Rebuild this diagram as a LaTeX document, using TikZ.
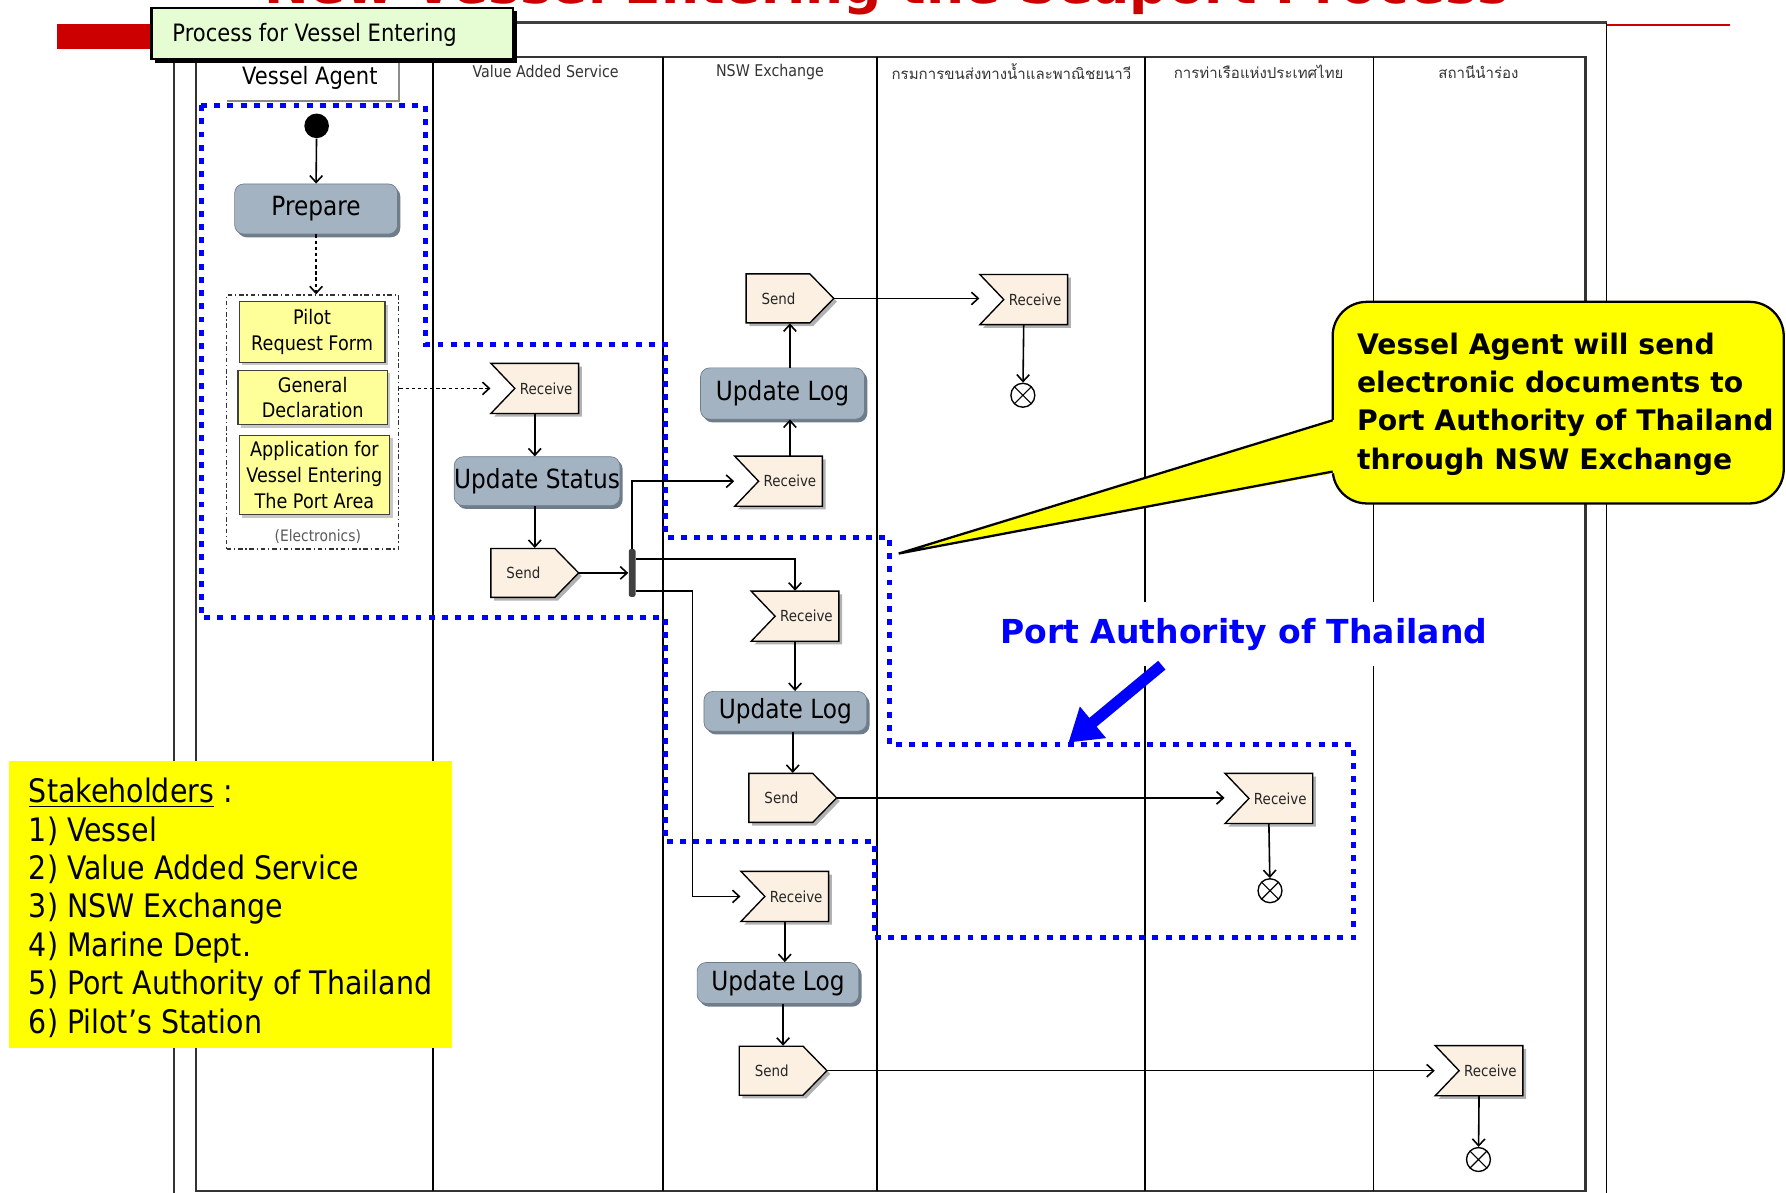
\documentclass[tikz,border=0pt]{standalone}
\usepackage{fontspec}
\setmainfont{DejaVu Sans}[FakeStretch=0.88]
\newfontfamily\bsans{DejaVu Sans}
\newfontfamily\thaifont[Script=Thai]{Loma}
\usetikzlibrary{arrows.meta,shadows}

\definecolor{actfill}{HTML}{A4B3C2}
\definecolor{actshadow}{HTML}{6F7D8B}
\definecolor{sigfill}{HTML}{FBF0E2}
\definecolor{docfill}{HTML}{FFFF99}
\definecolor{titlegreen}{HTML}{E6FCD2}
\definecolor{pptred}{HTML}{CC0000}
\definecolor{hiyellow}{HTML}{FFFF00}
\definecolor{pureblue}{HTML}{0000FF}

\tikzset{
  laneline/.style={line width=0.7pt},
  act/.style={rectangle, rounded corners=4pt, fill=actfill, draw=actshadow, line width=0.3pt,
    inner sep=0pt, font=\fontsize{11.6}{13.9}\selectfont,
    drop shadow={shadow xshift=1.2pt, shadow yshift=-1.4pt, fill=actshadow, opacity=1}},
  sigshape/.style={fill=sigfill, draw=black, line width=0.6pt,
    drop shadow={shadow xshift=1.4pt, shadow yshift=-1.4pt, fill=black!30, opacity=1}},
  sigbox/.style={rectangle, inner sep=0pt, minimum width=38.5pt, minimum height=22pt,
    font=\fontsize{6.7}{8}\selectfont, text=black!85},
  doc/.style={rectangle, fill=docfill, draw=black!75, line width=0.5pt, inner sep=0pt,
    align=center, font=\fontsize{8.8}{11.3}\selectfont,
    drop shadow={shadow xshift=1.4pt, shadow yshift=-1.4pt, fill=black!22, opacity=1}},
  flow/.style={line width=0.7pt, -{Straight Barb[length=3pt,width=5.5pt]}},
  objflow/.style={flow, dash pattern=on 1.5pt off 1.2pt},
  finalnode/.style={circle, draw=black, line width=0.6pt, fill=white, minimum size=10.5pt, inner sep=0pt,
    path picture={\draw[line width=0.5pt] (path picture bounding box.north west) -- (path picture bounding box.south east)
      (path picture bounding box.south west) -- (path picture bounding box.north east);}},
  hdr/.style={font=\fontsize{7.1}{8}\selectfont, text=black!80, inner sep=0pt},
  thaihdr/.style={font=\thaifont\fontsize{6.6}{8}\selectfont, text=black!80, inner sep=0pt},
  bluebound/.style={draw=pureblue, line width=2.2pt, dash pattern=on 2.6pt off 3.2pt},
}

\newcommand\recvnode[3]{%
  \path[sigshape] (#2-38.5,#3-22) -- (#2+38.5,#3-22) -- (#2+38.5,#3+22) -- (#2-38.5,#3+22) -- (#2-17.5,#3) -- cycle;
  \node[sigbox] (#1) at (#2,#3) {\hspace*{10pt}Receive};}
\newcommand\sendnode[3]{%
  \path[sigshape] (#2-38.5,#3-21.5) -- (#2+17.5,#3-21.5) -- (#2+38.5,#3) -- (#2+17.5,#3+21.5) -- (#2-38.5,#3+21.5) -- cycle;
  \node[sigbox, minimum height=21.5pt] (#1) at (#2,#3) {Send\hspace*{10pt}};}

\begin{document}
\begin{tikzpicture}[x=0.5pt, y=-0.5pt]
\useasboundingbox (0,0) rectangle (1568,1047);
\clip (0,0) rectangle (1568,1047);

% ---------- title (cut off at the top) ----------
\node[anchor=base west, inner sep=0, text=pptred, font=\bsans\bfseries\fontsize{23.45}{28}\selectfont]
  (title) at (232,3.5) {New Vessel Entering the Seaport Process};
\fill[pptred] (50,21) rectangle (134,43);
\draw[pptred, line width=0.6pt] (1411,22) -- (1519,22);

% ---------- frames and lanes ----------
\draw[black!75, line width=1.3pt] (153,20) -- (1410.5,20);
\draw[black!80, line width=0.9pt] (153,20) -- (153,1047);
\draw[black, line width=0.7pt] (1410.5,20) -- (1410.5,1047);
\draw[black!80, line width=1.1pt] (172,50) -- (1392,50) -- (1392,1045.5) -- (172,1045.5) -- cycle;
\foreach \lx in {380,582,770,1005,1206} \draw[laneline] (\lx,50) -- (\lx,1046);

% lane headers
\draw[black!45, line width=0.9pt] (350,50) -- (350,89) -- (199,89);
\node[font=\fontsize{10.5}{12}\selectfont, inner sep=0] (va) at (272,68) {Vessel Agent};
\node[hdr] (h2) at (479,63) {Value Added Service};
\node[hdr] (h3) at (676,63) {NSW Exchange};
\node[thaihdr] (h4) at (888,63) {กรมการขนส่งทางน้ำและพาณิชยนาวี};
\node[thaihdr] (h5) at (1105,63) {การท่าเรือแห่งประเทศไทย};
\node[thaihdr] (h6) at (1298,63) {สถานีนำร่อง};

% process title box
\fill[black] (136,10) rectangle (453.5,55.5);
\filldraw[fill=titlegreen, draw=black, line width=0.9pt] (133,7) rectangle (450,52);
\node[anchor=west, inner sep=0, font=\fontsize{10.5}{12}\selectfont] (ttl) at (151,31) {Process for Vessel Entering};

% ---------- Vessel Agent lane ----------
\node[circle, fill=black, minimum size=10.8pt, inner sep=0] (init) at (278,110.5) {};
\node[act, minimum width=71.5pt, minimum height=22pt] (prep) at (277.5,183.5) {Prepare};
\node[rectangle, draw=black!80, line width=0.6pt, dash pattern=on 2pt off 1.2pt on 0.6pt off 1.2pt,
  minimum width=75.5pt, minimum height=111.5pt, inner sep=0] (grp) at (274.5,370.5) {};
\node[doc, minimum width=64pt, minimum height=26.5pt] (d1) at (274,291.5) {Pilot\\Request Form};
\node[doc, minimum width=65.5pt, minimum height=24pt] (d2) at (274.5,349) {General\\Declaration};
\node[doc, minimum width=66pt, minimum height=35pt] (d3) at (276,417) {Application for\\Vessel Entering\\The Port Area};
\node[font=\fontsize{6.9}{8}\selectfont, text=black!65, inner sep=0] (elec) at (279,471) {(Electronics)};

% ---------- Value Added Service lane ----------
\recvnode{rcv1}{469.5}{341}
\node[act, minimum width=71.5pt, minimum height=21.5pt] (updS) at (471.5,422.5) {Update Status};
\sendnode{snd1}{469.5}{503}
\node[rectangle, fill=black!75, rounded corners=1pt, minimum width=3pt, minimum height=21pt, inner sep=0] (fork) at (555,503) {};

% ---------- NSW Exchange lane ----------
\sendnode{snd2}{693.5}{262}
\node[act, minimum width=72pt, minimum height=22.5pt] (upd1) at (687,345.5) {Update Log};
\recvnode{rcv2}{683.5}{422.5}
\recvnode{rcv3}{698}{541}
\node[act, minimum width=71.5pt, minimum height=17.5pt] (upd2) at (689.5,624.5) {Update Log};
\sendnode{snd3}{696}{700.5}
\recvnode{rcv4}{689}{787}
\node[act, minimum width=71pt, minimum height=18pt] (upd3) at (683,863) {Update Log};
\sendnode{snd4}{687.5}{940}

% ---------- receiving lanes ----------
\recvnode{rcv5}{898.75}{263}
\node[finalnode] (fin5) at (898,347) {};
\recvnode{rcv6}{1114}{701}
\node[finalnode] (fin6) at (1115,782) {};
\recvnode{rcv7}{1298.5}{940}
\node[finalnode] (fin7) at (1298,1018) {};

% ---------- connectors ----------
\draw[flow] (init) -- (prep.north);
\draw[objflow] (prep.south) -- (prep.south |- grp.north);
\draw[objflow] (grp.east |- rcv1.west) -- (rcv1.west);
\draw[flow] (rcv1.south) -- (rcv1.south |- updS.north);
\draw[flow] (snd1.north |- updS.south) -- (snd1.north);
\draw[flow] (snd1.east) -- (fork.west);
\draw[flow] (fork.north) |- (rcv2.west);
\draw[flow] ([yshift=6pt]fork.east) -| (rcv3.north);
\draw[flow] ([yshift=-8pt]fork.east) -| ([xshift=-21pt]rcv4.west) -- (rcv4.west);

\draw[flow] (snd2.south |- rcv2.north) -- (snd2.south |- upd1.south);
\draw[flow] (snd2.south |- upd1.north) -- (snd2.south);
\draw[flow] (snd2.east) -- (snd2.east -| rcv5.west);
\draw[flow] (rcv5.south) -- (fin5);

\draw[flow] (rcv3.south) -- (rcv3.south |- upd2.north);
\draw[flow] (snd3.north |- upd2.south) -- (snd3.north);
\draw[flow] (snd3.east) -- (snd3.east -| rcv6.west);
\draw[flow] (rcv6.south) -- (fin6);

\draw[flow] (rcv4.south) -- (rcv4.south |- upd3.north);
\draw[flow] (snd4.north |- upd3.south) -- (snd4.north);
\draw[flow] (snd4.east) -- (snd4.east -| rcv7.west);
\draw[flow] (rcv7.south) -- (fin7);

% ---------- blue dotted boundary ----------
\draw[bluebound] (176.5,92.5) -- (373.5,92.5) -- (373.5,302.5) -- (584,302.5) -- (584,471.5) -- (781,471.5)
  -- (781,654) -- (1188.5,654) -- (1188.5,823) -- (767.5,823) -- (767.5,739) -- (584,739) -- (584,542)
  -- (176.5,542) -- cycle;

% ---------- callout ----------
\filldraw[fill=hiyellow, draw=black, line width=1pt, rounded corners=15pt] (1170,265) rectangle (1566,442);
\fill[hiyellow] (789,486) -- (1173,368) -- (1173,415) -- cycle;
\draw[line width=1pt] (1170,369) -- (789,486) -- (1170,414);
\node[anchor=base west, align=left, inner sep=0, font=\bsans\bfseries\fontsize{12.4}{16.85}\selectfont]
  (callt) at (1191,412) {Vessel Agent will send\\electronic documents to\\Port Authority of Thailand\\through NSW Exchange};

% ---------- Port Authority label and arrow ----------
\node[fill=white, inner xsep=4pt, inner ysep=7pt, text=pureblue, font=\bsans\bfseries\fontsize{14.5}{17}\selectfont]
  (pat) at (1092,557) {Port Authority of Thailand};
\coordinate (arrS) at (1020,584);
\coordinate (arrE) at (938,652);
\draw[pureblue, line width=5pt, -{Triangle[length=14pt,width=17pt]}] (arrS) -- (arrE);

% ---------- stakeholders ----------
\node[fill=hiyellow, minimum width=194.5pt, minimum height=126pt, inner sep=0] (stk) at (202.5,794) {};
\node[anchor=base west, align=left, inner sep=0, font=\fontsize{14.2}{16.85}\selectfont] (stktxt) at (25,907)
  {\underline{Stakeholders} :\\1) Vessel\\2) Value Added Service\\3) NSW Exchange\\4) Marine Dept.\\5) Port Authority of Thailand\\6) Pilot’s Station};
\end{tikzpicture}
\end{document}
